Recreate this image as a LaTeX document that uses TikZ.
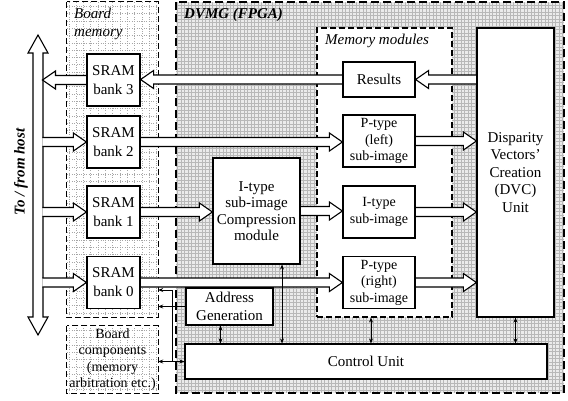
\documentclass[tikz,border=0pt]{standalone}
\usepackage{fontspec}
\setmainfont{Liberation Serif}
\usetikzlibrary{arrows.meta,calc}
\pgfdeclarelayer{back}
\pgfdeclarelayer{mid}
\pgfsetlayers{back,mid,main}

\tikzset{
  blk/.style={draw=black, fill=white, line width=1.2pt, align=center, inner sep=0pt},
  zone/.style={draw=black, line width=1.1pt, dash pattern=on 6pt off 3pt},
  dvmgpat/.style={path picture={\draw[solid, black!28, line width=0.3pt, step=3.5pt]
      (path picture bounding box.south west) grid (path picture bounding box.north east);}},
  boardpat/.style={path picture={\draw[dotted, black!35, line width=0.4pt, step=7.3pt]
      (path picture bounding box.south west) grid (path picture bounding box.north east);}},
  small/.style={font=\fontsize{14}{16.5}\selectfont},
  sig/.style={draw=black, line width=0.8pt},
  bus/.style={draw=black, fill=white, line width=1.1pt, line join=miter,
    to path={let \p1=(\tikztostart), \p2=(\tikztotarget),
      \n1={sign(\x2-\x1)} in
      (\x1,\y1+4.5pt) -- (\x2-\n1*13pt,\y1+4.5pt) -- (\x2-\n1*13pt,\y1+9pt)
      -- (\x2,\y1) -- (\x2-\n1*13pt,\y1-9pt) -- (\x2-\n1*13pt,\y1-4.5pt)
      -- (\x1,\y1-4.5pt)}}
}

\begin{document}
\begin{tikzpicture}[x=1pt, y=-1pt, >={Stealth[length=5pt,width=4pt]},
  every node/.style={font=\fontsize{15}{17.5}\selectfont}]
\useasboundingbox (0,0) rectangle (568,400);

% zones
\begin{pgfonlayer}{back}
\node[fill=black!8, dvmgpat, minimum width=388pt, minimum height=391pt] (dvmg) at (370,197.5) {};
\node[fill=white, boardpat, minimum width=91pt, minimum height=315pt] (bmem) at (112.5,159.5) {};
\node[fill=white, boardpat, minimum width=91pt, minimum height=67pt] (bcomp) at (112.5,359.5) {};
\draw[zone, line width=1.5pt, dash pattern=on 8pt off 4pt] (dvmg.north west) rectangle (dvmg.south east);
\draw[zone] (bmem.north west) rectangle (bmem.south east);
\draw[zone] (bcomp.north west) rectangle (bcomp.south east);
\node[zone, fill=white, minimum width=135pt, minimum height=289pt] (mem) at (384.5,172.5) {};
\end{pgfonlayer}

\node[align=center, small, text=black] (bcompname) at (bcomp) {Board\\components\\(memory\\arbitration etc.)};
\node[anchor=north west, font=\fontsize{15}{17.5}\selectfont\bfseries\itshape, inner sep=0pt]
  (dvmgname) at (184,8) {DVMG (FPGA)};
\node[anchor=north west, align=left, font=\fontsize{15}{18}\selectfont\itshape, inner sep=0pt]
  (bmemname) at (74,8) {Board\\memory};
\node[anchor=north west, font=\fontsize{15}{17.5}\selectfont\itshape, inner sep=0pt]
  (memname) at (325,34) {Memory modules};
\node[rotate=90, font=\fontsize{15}{17.5}\selectfont\bfseries\itshape] (hostname) at (21,172) {To / from host};

% blocks
\node[blk, minimum width=53pt, minimum height=52pt, font=\fontsize{15}{19}\selectfont] (sram3) at (113.5,80) {SRAM\\bank 3};
\node[blk, minimum width=53pt, minimum height=52pt, font=\fontsize{15}{19}\selectfont] (sram2) at (113.5,142) {SRAM\\bank 2};
\node[blk, minimum width=53pt, minimum height=52pt, font=\fontsize{15}{19}\selectfont] (sram1) at (113.5,212) {SRAM\\bank 1};
\node[blk, minimum width=53pt, minimum height=52pt, font=\fontsize{15}{19}\selectfont] (sram0) at (113.5,282.5) {SRAM\\bank 0};
\node[blk, minimum width=72pt, minimum height=35pt] (res) at (379,79.5) {Results};
\node[blk, small, minimum width=72pt, minimum height=52pt] (pleft) at (379,141) {P-type\\(left)\\sub-image};
\node[blk, small, minimum width=72pt, minimum height=52pt] (itype) at (379,212) {I-type\\sub-image};
\node[blk, small, minimum width=72pt, minimum height=52pt] (pright) at (379,282.5) {P-type\\(right)\\sub-image};
\node[blk, minimum width=87pt, minimum height=106pt, font=\fontsize{15}{16.5}\selectfont] (comp) at (256.5,211) {I-type\\sub-image\\Compression\\module};
\node[blk, minimum width=77pt, minimum height=289pt] (dvc) at (515.5,172.5) {Disparity\\Vectors'\\Creation\\(DVC)\\Unit};
\node[blk, minimum width=87pt, minimum height=37pt] (agen) at (229.5,306.5) {Address\\Generation};
\node[blk, minimum width=362pt, minimum height=35pt] (cu) at (366,361.5) {Control Unit};

% data paths
\begin{pgfonlayer}{mid}
\draw[draw=black, fill=white, line width=1.1pt, line join=miter] (33,53) -- (28,53) -- (38,35) -- (48,53) -- (43,53)
  -- (43,317) -- (48,317) -- (38,335) -- (28,317) -- (33,317) -- cycle;
\coordinate (busR) at (42.45,0);
\draw[bus] (res.west) to (sram3.east);
\draw[bus] (sram3.west) to (sram3.west -| busR);
\draw[bus] (sram2.west -| busR) to (sram2.west);
\draw[bus] (sram1.west -| busR) to (sram1.west);
\draw[bus] (sram0.west -| busR) to (sram0.west);
\draw[bus] (sram2.east) to (pleft.west);
\draw[bus] (sram1.east) to (comp.west);
\draw[bus] (comp.east) to (itype.west);
\draw[bus] (sram0.east) to (pright.west);
\draw[bus] (dvc.west |- res.east) to (res.east);
\draw[bus] (pleft.east) to (pleft.east -| dvc.west);
\draw[bus] (itype.east) to (itype.east -| dvc.west);
\draw[bus] (pright.east) to (pright.east -| dvc.west);
\end{pgfonlayer}

% control
\draw[sig, <->] (bcomp.east |- cu.west) -- (cu.west);
\draw[sig, ->] (cu.west -| 172,0) -- (172,290) -- (bmem.east |- 0,290);
\draw[sig, ->] (agen.west) -- (agen.west -| bmem.east);
\draw[sig, <->] ([xshift=-9pt]agen.south) -- ([xshift=-9pt]agen.south |- cu.north);
\draw[sig, <->] ([xshift=25.5pt]comp.south) -- ([xshift=25.5pt]comp.south |- cu.north);
\draw[sig, <->] ([xshift=-13.5pt]mem.south) -- ([xshift=-13.5pt]mem.south |- cu.north);
\draw[sig, <->] (dvc.south) -- (dvc.south |- cu.north);
\end{tikzpicture}
\end{document}
